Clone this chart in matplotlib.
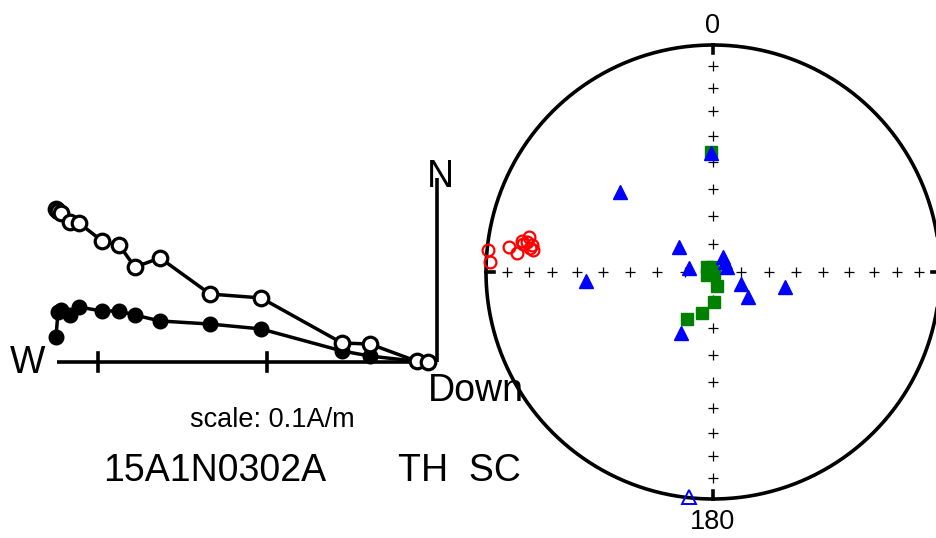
import numpy as np
import matplotlib.pyplot as plt

plt.rcParams['font.family'] = ['Liberation Sans', 'DejaVu Sans']

# --- Zijderveld data (A/m), east component shared by both projections
east = [-0.2248, -0.2236, -0.2218, -0.2165, -0.2112, -0.1976, -0.1876, -0.1782,
        -0.1634, -0.1339, -0.1038, -0.0560, -0.0395, -0.0118, -0.0053]
north = [0.0147, 0.0295, 0.0307, 0.0277, 0.0324, 0.0301, 0.0301, 0.0277,
         0.0242, 0.0224, 0.0195, 0.0065, 0.0035, 0.0004, 0.0002]
up = [0.0903, 0.0891, 0.0879, 0.0826, 0.0820, 0.0714, 0.0690, 0.0560,
      0.0614, 0.0401, 0.0378, 0.0112, 0.0106, 0.0004, 0.0002]

# --- equal-area directions (dec, inc)
red_dec = [275.6, 272.5, 276.9, 275.5, 279.3, 280.9, 278.4, 278.5, 277.4, 277.0, 279.2]
red_inc = [-0.5, -1.9, -10.5, -14.5, -15.7, -18.7, -16.6, -20.4, -19.8, -21.3, -18.0]

blue_dec = [358.9, 310.8, 306.7, 35.0, 50.2, 68.9, 278.9, 266.0, 113.2, 125.4, 101.5, 207.8]
blue_inc = [46.4, 45.0, 74.8, 83.6, 84.4, 84.7, 81.4, 43.3, 79.1, 74.8, 63.4, 65.3]
blue_up_dec = [186.0]
blue_up_inc = [-0.5]

green_dec = [358.9, 309.8, 348.7, 243.4, 135.0, 165.2, 177.5, 194.5, 208.5]
green_inc = [46.0, 87.2, 88.2, 87.6, 89.5, 84.8, 79.4, 74.7, 70.7]

sample = '15A1N0302A'
treatment = 'TH  SC'
scale_label = 'scale: 0.1A/m'


def dimap(dec, inc):
    dec = np.radians(np.asarray(dec, float))
    inc = np.radians(np.asarray(inc, float))
    r = np.sqrt(1 - np.abs(np.sin(inc)))
    return r * np.sin(dec), r * np.cos(dec)


fig = plt.figure(figsize=(9.36, 5.38), dpi=100)
W, H = 936, 538

# Zijderveld axes: 1 A/m = 1695 px, origin at pixel (437, 362)
k = 1695.0
x0, y0 = 437, 362
xl = (-0.255, 0.005)
yl = (-0.035, 0.115)
left = x0 + xl[0] * k
bottom = H - (y0 - yl[0] * k)
ax1 = fig.add_axes([left / W, bottom / H, (xl[1] - xl[0]) * k / W, (yl[1] - yl[0]) * k / H])
ax1.set_xlim(*xl)
ax1.set_ylim(*yl)
ax1.axis('off')

ax1.plot([-0.2242, 0], [0, 0], color='k', lw=2.6, solid_capstyle='butt')
ax1.plot([0, 0], [0, 0.1086], color='k', lw=2.6, solid_capstyle='butt')
for t in [-0.1, -0.2]:
    ax1.plot([t, t], [-0.0053, 0.0053], color='k', lw=2.6)

ax1.plot(east, north, '-o', color='k', lw=2.5, ms=10.5, mfc='k', mec='k')
ax1.plot(east, up, '-o', color='k', lw=2.5, ms=10.5, mfc='white', mec='k', mew=2.3)

ax1.text(-0.2313, -0.0065, 'W', fontsize=27, ha='right', va='baseline')
ax1.text(0.0018, 0.1032, 'N', fontsize=27, ha='center', va='baseline')
ax1.text(-0.0053, -0.0230, 'Down', fontsize=27, ha='left', va='baseline')
ax1.text(-0.0973, -0.0383, scale_label, fontsize=19.5, ha='center', va='baseline')

fig.text(103 / W, (H - 481) / H, sample, fontsize=27, ha='left', va='baseline')
fig.text(398 / W, (H - 481) / H, treatment, fontsize=27, ha='left', va='baseline')

# equal-area net: centre (713, 272), radius 227 px
R = 227.0
cx, cy = 713, 272
lim = 1.05
ax2 = fig.add_axes([(cx - lim * R) / W, (H - cy - lim * R) / H, 2 * lim * R / W, 2 * lim * R / H])
ax2.set_xlim(-lim, lim)
ax2.set_ylim(-lim, lim)
ax2.axis('off')

xc, yc = dimap(np.arange(0, 361), np.zeros(361))
ax2.plot(xc, yc, color='k', lw=2.6)
for d in [0, 90, 180, 270]:
    xs, ys = dimap([d] * 8, np.arange(10, 90, 10))
    ax2.plot(xs, ys, 'k+', ms=7, mew=0.9)
    xt, yt = dimap([d, d], [0, 4])
    ax2.plot(xt, yt, color='k', lw=2.6)

x, y = dimap(red_dec, red_inc)
ax2.plot(x, y, 'o', ms=8.5, mfc='none', mec='red', mew=1.6)
x, y = dimap(green_dec, green_inc)
ax2.plot(x, y, 's', ms=8.8, color='green')
x, y = dimap(blue_dec, blue_inc)
ax2.plot(x, y, '^', ms=9.5, color='blue')
x, y = dimap(blue_up_dec, blue_up_inc)
ax2.plot(x, y, '^', ms=9.5, mfc='none', mec='blue', mew=1.4, clip_on=False)

ax2.text(0, 1.053, '0', fontsize=19.5, ha='center', va='baseline')
ax2.text(0, -1.132, '180', fontsize=19.5, ha='center', va='baseline')

fig.savefig('out.png', dpi=100)
